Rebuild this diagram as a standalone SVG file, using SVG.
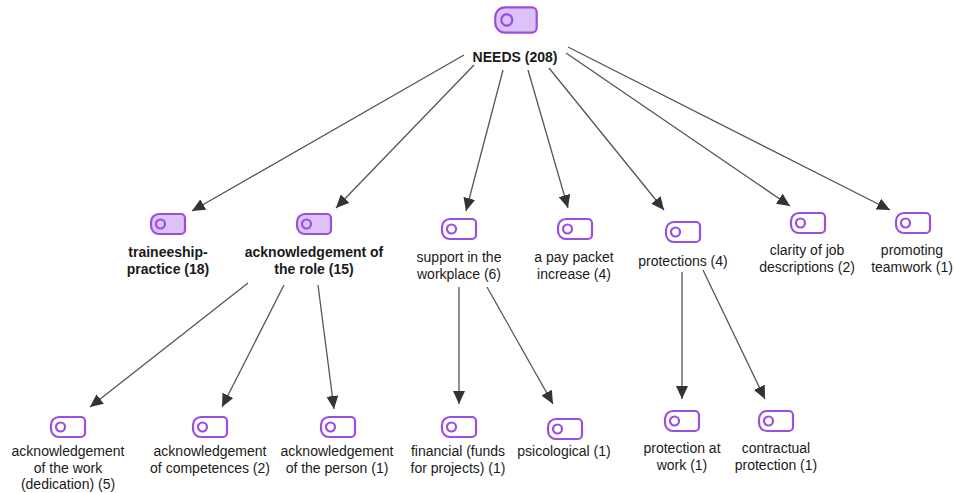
<svg xmlns="http://www.w3.org/2000/svg" width="954" height="493" viewBox="0 0 954 493">
<style>
text{font-family:"Liberation Sans",Arial,sans-serif;font-size:14px;fill:#1a1a1a;text-anchor:middle}
.b{font-weight:bold}
.ic{stroke:#9b4fe0;stroke-width:2.2;fill:#fff}
.icf{stroke:#9b4fe0;stroke-width:2.2;fill:#dcc2f7}
.c{stroke:#555;stroke-width:1.3;fill:none;marker-end:url(#ah)}
</style>
<defs>
<marker id="ah" markerUnits="userSpaceOnUse" markerWidth="14" markerHeight="12" refX="13" refY="6" orient="auto">
<path d="M0,0 L13,6 L0,12 Z" fill="#333"/>
</marker>
<g id="tag"><path d="M9,1 H31 A4,4 0 0 1 35,5 V17 A4,4 0 0 1 31,21 H9 A8,8 0 0 1 1,13 V9 A8,8 0 0 1 9,1 Z"/><circle cx="10.5" cy="11" r="4.5"/></g>
</defs>
<rect width="954" height="493" fill="#fff"/>
<g id="connectors">
<line class="c" x1="464" y1="55" x2="192" y2="211"/>
<line class="c" x1="474" y1="65" x2="336" y2="208"/>
<line class="c" x1="503" y1="70" x2="466" y2="211"/>
<line class="c" x1="528" y1="70" x2="568" y2="208"/>
<line class="c" x1="549" y1="68" x2="664" y2="210"/>
<line class="c" x1="566" y1="53" x2="790" y2="206"/>
<line class="c" x1="568" y1="47" x2="890" y2="210"/>
<line class="c" x1="248" y1="283" x2="90" y2="407"/>
<line class="c" x1="284" y1="285" x2="222" y2="407"/>
<line class="c" x1="318" y1="285" x2="334" y2="409"/>
<line class="c" x1="459" y1="287" x2="459" y2="404"/>
<line class="c" x1="487" y1="287" x2="553" y2="404"/>
<line class="c" x1="682" y1="272" x2="682" y2="399"/>
<line class="c" x1="703" y1="270" x2="765" y2="399"/>
</g>
<g id="n-needs"><use href="#tag" class="icf" transform="translate(494,6) scale(1.22,1.27)" style="stroke-width:1.8"/><text class="b" x="515" y="62">NEEDS (208)</text></g>
<g id="n-trainee"><use href="#tag" class="icf" x="150" y="213"/><text class="b" x="168" y="257">traineeship-</text><text class="b" x="168" y="274">practice (18)</text></g>
<g id="n-ackrole"><use href="#tag" class="icf" x="296" y="213"/><text class="b" x="314" y="257">acknowledgement of</text><text class="b" x="314" y="274">the role (15)</text></g>
<g id="n-support"><use href="#tag" class="ic" x="441" y="218"/><text x="459" y="262">support in the</text><text x="459" y="279">workplace (6)</text></g>
<g id="n-pay"><use href="#tag" class="ic" x="557" y="218"/><text x="574" y="262">a pay packet</text><text x="574" y="279">increase (4)</text></g>
<g id="n-prot"><use href="#tag" class="ic" x="665" y="221"/><text x="683" y="266">protections (4)</text></g>
<g id="n-clarity"><use href="#tag" class="ic" x="790" y="212"/><text x="807" y="255">clarity of job</text><text x="807" y="272">descriptions (2)</text></g>
<g id="n-team"><use href="#tag" class="ic" x="895" y="212"/><text x="912" y="255">promoting</text><text x="912" y="272">teamwork (1)</text></g>
<g id="n-ackwork"><use href="#tag" class="ic" x="50" y="416"/><text x="68" y="456">acknowledgement</text><text x="68" y="473">of the work</text><text x="68" y="489">(dedication) (5)</text></g>
<g id="n-ackcomp"><use href="#tag" class="ic" x="192" y="416"/><text x="210" y="456">acknowledgement</text><text x="210" y="473">of competences (2)</text></g>
<g id="n-ackpers"><use href="#tag" class="ic" x="320" y="416"/><text x="337" y="456">acknowledgement</text><text x="337" y="473">of the person (1)</text></g>
<g id="n-fin"><use href="#tag" class="ic" x="441" y="416"/><text x="458" y="456">financial (funds</text><text x="458" y="473">for projects) (1)</text></g>
<g id="n-psi"><use href="#tag" class="ic" x="547" y="418"/><text x="564" y="456">psicological (1)</text></g>
<g id="n-protwork"><use href="#tag" class="ic" x="664" y="410"/><text x="682" y="453">protection at</text><text x="682" y="470">work (1)</text></g>
<g id="n-contract"><use href="#tag" class="ic" x="758" y="410"/><text x="776" y="453">contractual</text><text x="776" y="470">protection (1)</text></g>
</svg>
